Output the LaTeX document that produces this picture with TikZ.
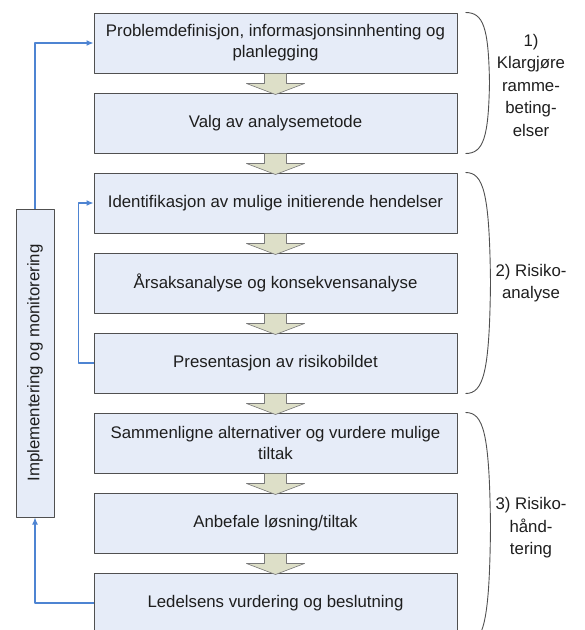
\documentclass[tikz,border=0pt]{standalone}
\usepackage{fontspec}
\setmainfont{Liberation Sans}
\definecolor{boksfyll}{RGB}{230,236,248}
\definecolor{boksrand}{RGB}{80,80,80}
\definecolor{pilfyll}{RGB}{221,223,200}
\definecolor{myblue}{RGB}{78,132,210}
\definecolor{tekst}{RGB}{30,30,30}
\usetikzlibrary{calc,arrows.meta}

\begin{document}
\begin{tikzpicture}[x=1pt,y=-1pt,line join=round]
	\tikzstyle{boks}=[draw=boksrand,fill=boksfyll,line width=1pt,minimum width=363pt,minimum height=60pt,inner sep=0pt,align=center,text=tekst,font=\fontsize{16.8}{21}\selectfont];
	\tikzstyle{imp}=[draw=boksrand,fill=boksfyll,line width=1pt,minimum width=38pt,minimum height=308pt,inner sep=0pt,text=tekst,font=\fontsize{16.8}{21}\selectfont];
	\tikzstyle{pil}=[draw={rgb,255:red,120;green,120;blue,120},fill=pilfyll,line width=0.6pt];
	\tikzstyle{tilbake}=[myblue,line width=1.1pt,-{Latex[length=7pt,width=6pt]}];
	\tikzstyle{klamme}=[boksrand,line width=0.9pt];
	\tikzstyle{fase}=[align=center,text=tekst,font=\fontsize{16.8}{22.5}\selectfont];
	\clip (0,0) rectangle (585,630);
	\node[boks] (b1) at (275.5,43)  {Problemdefinisjon, informasjonsinnhenting og\\planlegging};
	\node[boks] (b2) at (275.5,123) {Valg av analysemetode};
	\node[boks] (b3) at (275.5,203) {Identifikasjon av mulige initierende hendelser};
	\node[boks] (b4) at (275.5,283) {Årsaksanalyse og konsekvensanalyse};
	\node[boks] (b5) at (275.5,363) {Presentasjon av risikobildet};
	\node[boks] (b6) at (275.5,443) {Sammenligne alternativer og vurdere mulige\\tiltak};
	\node[boks] (b7) at (275.5,523) {Anbefale løsning/tiltak};
	\node[boks] (b8) at (275.5,603) {Ledelsens vurdering og beslutning};
	\node[imp]  (imp) at (35,363)   {\rotatebox{90}{Implementering og monitorering}};
	% blokkpiler mellom stegene
	\foreach \a/\b in {b1/b2,b2/b3,b3/b4,b4/b5,b5/b6,b6/b7,b7/b8}
		\draw[pil] ($(\a.south)+(-11,0)$) -- ($(\a.south)+(-11,10)$) -- ($(\a.south)+(-29,10)$)
			-- ($(\b.north)+(0,2)$) -- ($(\a.south)+(29,10)$) -- ($(\a.south)+(11,10)$) -- ($(\a.south)+(11,0)$);
	% tilbakekoblinger
	\draw[tilbake] (imp.north) |- (b1.west);
	\draw[tilbake] (b8.west) -| (imp.south);
	\draw[tilbake] (b5.west) -- ++(-15,0) |- (b3.west);
	% klammer og faser
	\draw[klamme] ($(b1.north east)+(8,0)$) .. controls +(18,0) and +(-1,-55) .. ($(b1.north east)+(32,70)$)
		.. controls +(-1,55) and +(18,0) .. ($(b2.south east)+(8,0)$);
	\draw[klamme] ($(b3.north east)+(8,0)$) .. controls +(18,0) and +(-1,-90) .. ($(b3.north east)+(33,110)$)
		.. controls +(-1,90) and +(18,0) .. ($(b5.south east)+(8,0)$);
	\draw[klamme] ($(b6.north east)+(8,0)$) .. controls +(18,0) and +(-1,-95) .. ($(b6.north east)+(33,115)$)
		.. controls +(-1,95) and +(18,0) .. ($(b8.south east)+(8,10)$);
	\node[fase] (f1) at (531,85)  {1)\\Klargjøre\\ramme-\\beting-\\elser};
	\node[fase] (f2) at (531,283) {2) Risiko-\\analyse};
	\node[fase] (f3) at (531,528) {3) Risiko-\\hånd-\\tering};
\end{tikzpicture}
\end{document}
